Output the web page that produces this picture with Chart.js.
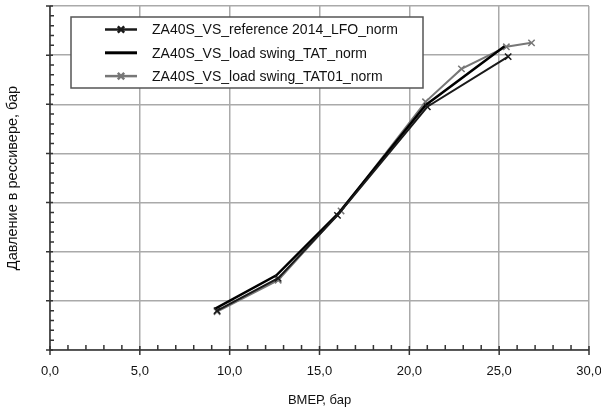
<!DOCTYPE html>
<html>
<head>
<meta charset="utf-8">
<script src="https://cdn.jsdelivr.net/npm/chart.js@4"></script>
<style>
  html, body { margin: 0; padding: 0; background: #fff; }
  #wrap { width: 601px; height: 412px; }
</style>
</head>
<body>
<div id="wrap"><canvas id="chart" width="601" height="412"></canvas></div>
<script>
// Chart data
var seriesNames = [
    'ZA40S_VS_reference 2014_LFO_norm',
    'ZA40S_VS_load swing_TAT_norm',
    'ZA40S_VS_load swing_TAT01_norm'
];
var refX = [9.3, 12.7, 16.0, 21.0, 25.5];
var refY = [0.80, 1.46, 2.74, 4.95, 5.97];
var tatX = [9.2, 12.6, 16.1, 20.9, 25.3];
var tatY = [0.84, 1.52, 2.80, 4.98, 6.18];
var tat01X = [9.3, 12.7, 16.2, 20.9, 22.9, 25.4, 26.8];
var tat01Y = [0.78, 1.42, 2.83, 5.05, 5.72, 6.17, 6.25];

var xTitle = 'ВМЕР, бар';
var yTitle = 'Давление в рессивере, бар';

function toPoints(xs, ys) {
    return xs.map(function(x, i) { return { x: x, y: ys[i] }; });
}

var FONT = '"Liberation Sans", Arial, sans-serif';

// minor / major tick marks drawn like the Excel axis
var tickMarks = {
    id: 'tickMarks',
    afterDraw: function(chart) {
        var ctx = chart.ctx;
        var xs = chart.scales.x, ys = chart.scales.y;
        var area = chart.chartArea;
        ctx.save();
        ctx.strokeStyle = '#333';
        ctx.lineWidth = 1.5;
        // axis lines
        ctx.beginPath();
        ctx.moveTo(area.left, area.top);
        ctx.lineTo(area.left, area.bottom);
        ctx.lineTo(area.right, area.bottom);
        ctx.stroke();
        ctx.beginPath();
        for (var v = 0; v <= 30; v++) {
            var px = xs.getPixelForValue(v);
            if (v % 5 === 0) {
                ctx.moveTo(px, area.bottom - 4);
                ctx.lineTo(px, area.bottom + 5);
            } else {
                ctx.moveTo(px, area.bottom - 5);
                ctx.lineTo(px, area.bottom);
            }
        }
        for (var k = 0; k <= 35; k++) {
            var py = ys.getPixelForValue(k / 5);
            if (k % 5 === 0) {
                ctx.moveTo(area.left - 4, py);
                ctx.lineTo(area.left + 3, py);
            } else {
                ctx.moveTo(area.left, py);
                ctx.lineTo(area.left + 4, py);
            }
        }
        ctx.stroke();
        ctx.restore();
    }
};

// legend box inside the plot area
var innerLegend = {
    id: 'innerLegend',
    afterDraw: function(chart) {
        var ctx = chart.ctx;
        ctx.save();
        ctx.fillStyle = '#fff';
        ctx.fillRect(71, 17, 352, 71);
        ctx.strokeStyle = '#555';
        ctx.lineWidth = 1.5;
        ctx.strokeRect(71, 17, 352, 71);
        chart.data.datasets.forEach(function(ds, i) {
            var y = 29.5 + i * 23.3;
            ctx.strokeStyle = ds.borderColor;
            ctx.lineWidth = ds.borderWidth + 0.5;
            ctx.beginPath();
            ctx.moveTo(105, y);
            ctx.lineTo(137, y);
            ctx.stroke();
            if (ds.pointRadius > 0) {
                Chart.helpers.drawPoint(ctx, {
                    pointStyle: 'crossRot',
                    radius: 4.5,
                    borderWidth: 1.5
                }, 121, y);
            }
            ctx.fillStyle = '#111';
            ctx.font = '14px ' + FONT;
            ctx.textBaseline = 'middle';
            ctx.fillText(ds.label, 152, y + 1);
        });
        ctx.restore();
    }
};

new Chart(document.getElementById('chart').getContext('2d'), {
    type: 'line',
    data: {
        datasets: [{
            label: seriesNames[0],
            data: toPoints(refX, refY),
            borderColor: '#1a1a1a',
            borderWidth: 2,
            pointStyle: 'crossRot',
            pointRadius: 4.5,
            pointBorderWidth: 1.5,
            pointBorderColor: '#1a1a1a'
        }, {
            label: seriesNames[1],
            data: toPoints(tatX, tatY),
            borderColor: '#000',
            borderWidth: 2.5,
            pointRadius: 0
        }, {
            label: seriesNames[2],
            data: toPoints(tat01X, tat01Y),
            borderColor: '#777',
            borderWidth: 2,
            pointStyle: 'crossRot',
            pointRadius: 4.5,
            pointBorderWidth: 1.5,
            pointBorderColor: '#777'
        }]
    },
    options: {
        responsive: false,
        animation: false,
        layout: { padding: { top: 6, right: 12, left: 0, bottom: 0 } },
        plugins: {
            legend: { display: false },
            tooltip: { enabled: false }
        },
        scales: {
            x: {
                type: 'linear',
                min: 0,
                max: 30,
                border: { display: false },
                grid: { color: '#aaa', lineWidth: 1.5, drawTicks: false },
                ticks: {
                    stepSize: 5,
                    padding: 14,
                    color: '#111',
                    font: { family: FONT, size: 13 },
                    callback: function(value) {
                        return value.toFixed(1).replace('.', ',');
                    }
                },
                title: {
                    display: true,
                    text: xTitle,
                    color: '#111',
                    font: { family: FONT, size: 13 },
                    padding: { top: 0, bottom: 4 }
                },
                afterFit: function(scale) {
                    scale.height = 62;
                    scale.paddingLeft = 0;
                    scale.paddingRight = 0;
                }
            },
            y: {
                type: 'linear',
                min: 0,
                max: 7,
                border: { display: false },
                grid: { color: '#aaa', lineWidth: 1.5, drawTicks: false },
                ticks: { stepSize: 1, display: false },
                title: {
                    display: true,
                    text: yTitle,
                    color: '#111',
                    font: { family: FONT, size: 14.5 },
                    padding: { top: 4, bottom: 0 }
                },
                afterFit: function(scale) { scale.width = 50; }
            }
        }
    },
    plugins: [tickMarks, innerLegend]
});
</script>
</body>
</html>
